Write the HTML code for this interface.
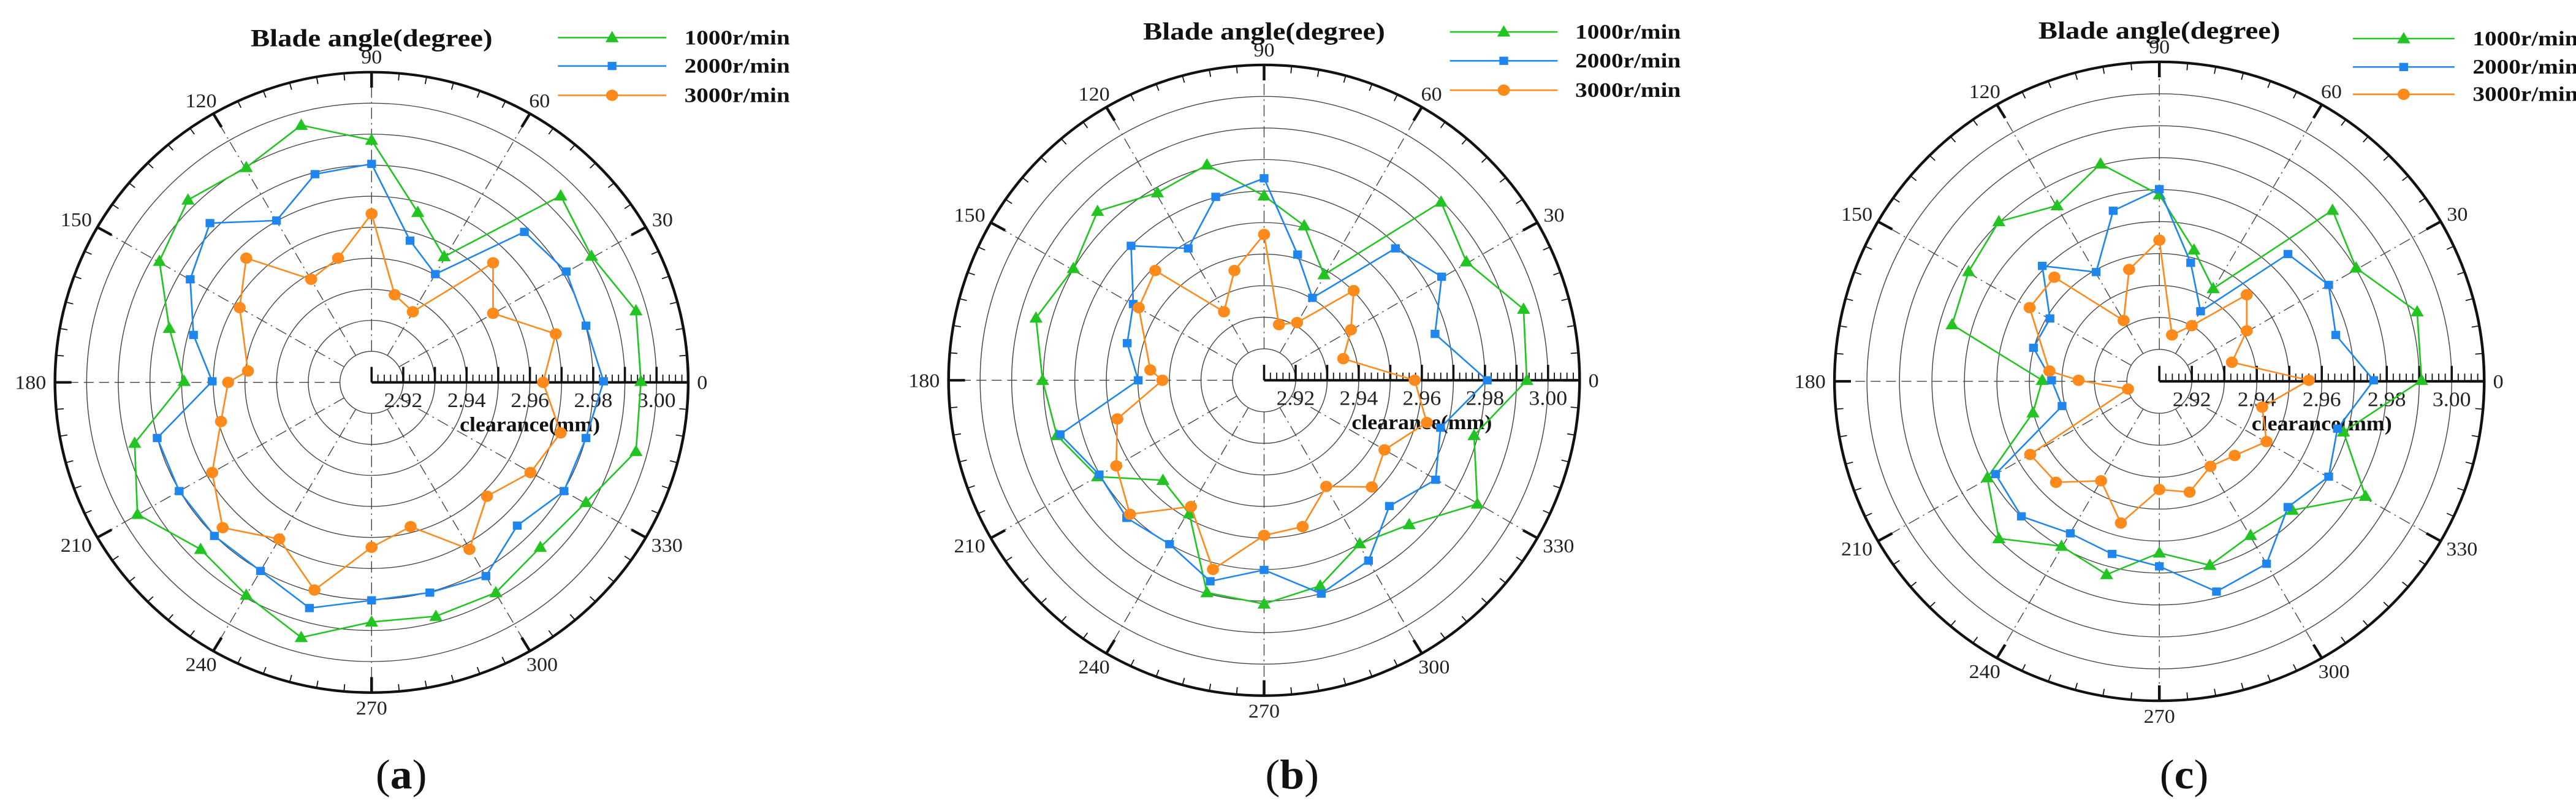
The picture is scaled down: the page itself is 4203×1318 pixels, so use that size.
<!DOCTYPE html>
<html><head><meta charset="utf-8">
<style>
html,body{margin:0;padding:0;background:#fff;}
body{width:4203px;height:1318px;position:relative;overflow:hidden;}
svg{position:absolute;top:0;}
text{font-family:"Liberation Serif",serif;}
</style></head>
<body>
<svg id="p0" style="left:0px" width="1400" height="1318" viewBox="0 0 1561 1568" preserveAspectRatio="none"></svg>
<svg id="p1" style="left:1458px" width="1400" height="1318" viewBox="0 0 1561 1568" preserveAspectRatio="none"></svg>
<svg id="p2" style="left:2803px" width="1400" height="1318" viewBox="0 0 1561 1568" preserveAspectRatio="none"></svg>
<script>
var P=[
{cx:676,cy:742,rx:576,ry:602,ty:75,lx1:1015,lx2:1212,ly:[73,128,185],ltx:1245,lab:'a',labx:730,
g:[[676,272],[548,243],[448,325],[342,388],[290,507],[308,637],[335,740],[245,860],[250,998],[365,1066],[448,1155],[548,1237],[676,1207],[793,1196],[902,1150],[983,1062],[1066,975],[1157,876],[1166,740],[1157,603],[1076,497],[1020,380],[808,498],[760,412]],
b:[[676,318],[573,338],[503,428],[382,433],[346,542],[352,650],[386,740],[286,850],[326,953],[390,1040],[474,1108],[563,1180],[676,1165],[782,1150],[884,1118],[941,1020],[1026,953],[1066,850],[1098,740],[1066,632],[1030,527],[954,450],[792,532],[746,467]],
o:[[676,415],[615,501],[566,542],[448,501],[436,597],[451,720],[415,742],[402,818],[386,917],[405,1024],[508,1046],[572,1145],[676,1062],[747,1022],[854,1066],[886,963],[965,917],[1020,840],[988,742],[1011,648],[897,608],[897,510],[751,605],[718,572]]},
{cx:674,cy:738,rx:574,ry:612,ty:62,lx1:1012,lx2:1208,ly:[62,118,175],ltx:1240,lab:'b',labx:725,
g:[[674,380],[570,320],[480,374],[371,410],[327,521],[259,617],[271,738],[297,845],[371,925],[490,932],[538,997],[570,1150],[674,1172],[776,1137],[848,1055],[938,1018],[1062,978],[1056,845],[1152,738],[1146,600],[1042,508],[996,392],[783,533],[747,438]],
b:[[674,346],[586,382],[536,482],[432,477],[436,590],[425,666],[445,738],[303,843],[374,921],[424,1005],[502,1056],[576,1128],[674,1106],[778,1152],[864,1088],[902,982],[986,931],[995,830],[1080,738],[985,648],[997,537],[913,482],[762,578],[735,494]],
o:[[674,455],[620,525],[601,605],[476,525],[446,597],[467,718],[489,738],[407,813],[405,904],[430,998],[541,983],[581,1105],[674,1039],[744,1022],[787,944],[870,945],[893,873],[970,820],[948,738],[818,696],[832,640],[837,564],[734,626],[701,630]]},
{cx:803,cy:740,rx:591,ry:620,ty:60,lx1:1155,lx2:1340,ly:[75,130,183],ltx:1373,lab:'c',labx:848,
g:[[803,378],[696,318],[617,399],[511,430],[456,527],[426,630],[590,738],[573,801],[490,927],[511,1045],[625,1060],[707,1115],[803,1073],[895,1097],[969,1039],[1045,990],[1178,963],[1138,838],[1280,738],[1272,605],[1161,520],[1118,408],[901,560],[866,485]],
b:[[803,367],[719,409],[688,528],[590,516],[604,618],[574,675],[607,738],[626,788],[505,920],[552,1002],[641,1035],[717,1075],[803,1099],[907,1148],[998,1094],[1037,984],[1111,925],[1127,832],[1193,738],[1124,650],[1111,553],[1037,493],[878,604],[860,510]],
o:[[803,466],[748,523],[738,622],[612,538],[567,597],[603,720],[656,738],[746,755],[568,882],[615,936],[697,933],[733,1015],[803,950],[858,955],[896,905],[940,884],[998,857],[990,790],[1075,738],[935,703],[962,642],[962,572],[862,632],[826,650]]}
];
var G='#22c422',B='#1e86ee',O='#ff8a1c';
function mk(t,s,c,x,y){
 if(t=='g')return '<polygon points="'+x+','+(y-13)+' '+(x+12)+','+(y+9)+' '+(x-12)+','+(y+9)+'" fill="'+c+'"/>';
 if(t=='b')return '<rect x="'+(x-8)+'" y="'+(y-8)+'" width="16" height="16" fill="'+c+'"/>';
 return '<circle cx="'+x+'" cy="'+y+'" r="11" fill="'+c+'"/>';
}
P.forEach(function(p,i){
 var s='',cx=p.cx,cy=p.cy,rx=p.rx,ry=p.ry,k,a;
 for(k=1;k<10;k++)s+='<ellipse cx="'+cx+'" cy="'+cy+'" rx="'+(rx*k/10)+'" ry="'+(ry*k/10)+'" fill="none" stroke="#444" stroke-width="1.6"/>';
 for(a=0;a<360;a+=30){var r=a*Math.PI/180,c=Math.cos(r),sn=Math.sin(r);
  if(a==0)continue;
  var dash=(a==180)?'18,10':'22,8,3,8';
  s+='<line x1="'+(cx+rx*0.1*c)+'" y1="'+(cy-ry*0.1*sn)+'" x2="'+(cx+rx*c)+'" y2="'+(cy-ry*sn)+'" stroke="#444" stroke-width="1.6" stroke-dasharray="'+dash+'"/>';}
 for(a=0;a<360;a+=5){var r=a*Math.PI/180,c=Math.cos(r),sn=Math.sin(r),L=(a%30==0)?30:14,w=(a%30==0)?5:2;
  s+='<line x1="'+(cx+rx*c)+'" y1="'+(cy-ry*sn)+'" x2="'+(cx+(rx-L)*c)+'" y2="'+(cy-(ry-L)*sn)+'" stroke="#111" stroke-width="'+w+'"/>';
  if(a%30==0){var t=''+a,fs=38,w2=t.length*fs*0.5/2,h2=fs*0.36;
   var X=cx+(rx+16)*c+w2*c,Y=cy-(ry+16)*sn-h2*sn;
   s+='<text x="'+X+'" y="'+(Y+13)+'" font-size="'+fs+'" text-anchor="middle" fill="#222">'+t+'</text>';}}
 s+='<ellipse cx="'+cx+'" cy="'+cy+'" rx="'+rx+'" ry="'+ry+'" fill="none" stroke="#111" stroke-width="5"/>';
 s+='<line x1="'+cx+'" y1="'+cy+'" x2="'+(cx+rx)+'" y2="'+cy+'" stroke="#111" stroke-width="5"/>';
 for(k=0;k<=50;k++){var x=cx+rx*k/50,L=(k%5==0)?30:15;
  s+='<line x1="'+x+'" y1="'+cy+'" x2="'+x+'" y2="'+(cy-L)+'" stroke="#111" stroke-width="'+((k%5==0)?4:2)+'"/>';}
 ['2.92','2.94','2.96','2.98','3.00'].forEach(function(t,j){
  s+='<text x="'+(cx+rx*(1+2*j)/10)+'" y="'+(cy+48)+'" font-size="40" text-anchor="middle" fill="#222">'+t+'</text>';});
 s+='<text x="'+(cx+rx*0.5)+'" y="'+(cy+95)+'" font-size="40" font-weight="bold" text-anchor="middle" fill="#111">clearance(mm)</text>';
 [['g',G],['b',B],['o',O]].forEach(function(d){var pts=p[d[0]];
  s+='<polygon points="'+pts.map(function(q){return q.join(',')}).join(' ')+'" fill="none" stroke="'+d[1]+'" stroke-width="3"/>';
  pts.forEach(function(q){s+=mk(d[0],0,d[1],q[0],q[1]);});});
 s+='<text x="'+cx+'" y="'+(p.ty+15)+'" font-size="48" font-weight="bold" text-anchor="middle" textLength="440" lengthAdjust="spacingAndGlyphs" fill="#111">Blade angle(degree)</text>';
 [['g',G,'1000r/min'],['b',B,'2000r/min'],['o',O,'3000r/min']].forEach(function(d,j){var y=p.ly[j];
  s+='<line x1="'+p.lx1+'" y1="'+y+'" x2="'+p.lx2+'" y2="'+y+'" stroke="'+d[1]+'" stroke-width="3"/>';
  s+=mk(d[0],0,d[1],(p.lx1+p.lx2)/2,y);
  s+='<text x="'+p.ltx+'" y="'+(y+13)+'" font-size="40" font-weight="bold" fill="#111" textLength="192" lengthAdjust="spacingAndGlyphs">'+d[2]+'</text>';});
 s+='<text x="'+p.labx+'" y="'+1530+'" font-size="80" text-anchor="middle" fill="#111">(<tspan font-weight="bold">'+p.lab+'</tspan>)</text>';
 document.getElementById('p'+i).innerHTML=s;
});
</script>
</body></html>
